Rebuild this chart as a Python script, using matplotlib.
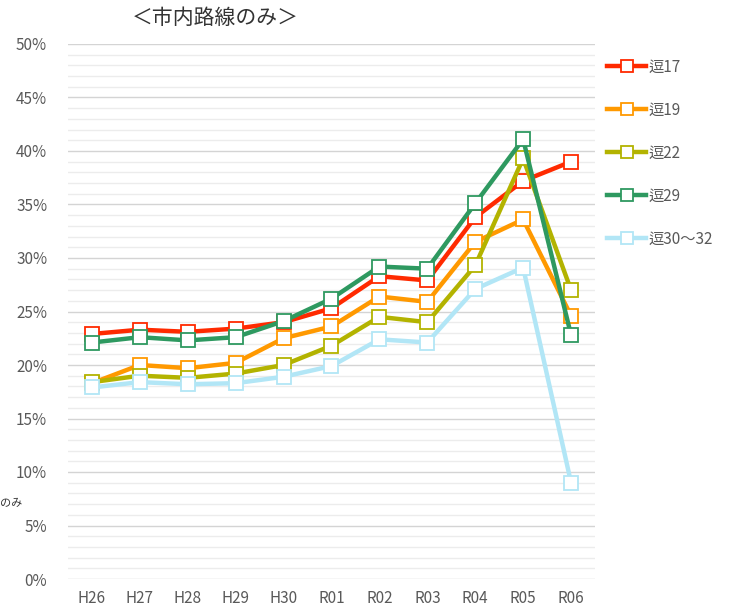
import matplotlib
matplotlib.use("Agg")
import matplotlib.pyplot as plt
from matplotlib.ticker import MultipleLocator, FuncFormatter

plt.rcParams['font.family'] = ['Noto Sans CJK JP', 'DejaVu Sans']

categories = ["H26", "H27", "H28", "H29", "H30", "R01", "R02", "R03", "R04", "R05", "R06"]
series_names = ["逗17", "逗19", "逗22", "逗29", "逗30〜32"]
zushi17 = [22.9, 23.3, 23.1, 23.4, 24.0, 25.3, 28.3, 27.9, 33.8, 37.2, 39.0]
zushi19 = [18.3, 20.0, 19.7, 20.2, 22.5, 23.6, 26.4, 25.9, 31.5, 33.6, 24.6]
zushi22 = [18.4, 19.0, 18.8, 19.2, 20.0, 21.8, 24.5, 24.0, 29.3, 39.3, 27.0]
zushi29 = [22.1, 22.6, 22.3, 22.6, 24.1, 26.2, 29.2, 29.0, 35.1, 41.1, 22.8]
zushi30_32 = [17.9, 18.4, 18.2, 18.3, 18.9, 19.9, 22.4, 22.1, 27.1, 29.1, 9.0]
colors = ["#FF2A00", "#FF9900", "#B3B300", "#2E9960", "#B2E6F6"]

data = [zushi17, zushi19, zushi22, zushi29, zushi30_32]

fig = plt.figure(figsize=(7.31, 6.09), dpi=100)
ax = fig.add_axes([68/731, 30/609, 527/731, 535/609])

x = list(range(len(categories)))
handles = []
for name, vals, c in zip(series_names, data, colors):
    h, = ax.plot(x, vals, color=c, lw=3.2, marker="s", markersize=10,
                 markerfacecolor="white", markeredgecolor=c, markeredgewidth=1.3,
                 label=name, zorder=3)
    handles.append(h)

ax.set_xlim(-0.5, 10.5)
ax.set_ylim(0, 50)
ax.yaxis.set_major_locator(MultipleLocator(5))
ax.yaxis.set_minor_locator(MultipleLocator(1))
ax.yaxis.set_major_formatter(FuncFormatter(lambda v, p: f"{int(round(v))}%"))
ax.set_xticks(x)
ax.set_xticklabels(categories)
ax.grid(axis="y", which="major", color="#d4d4d4", lw=1.0, zorder=0)
ax.grid(axis="y", which="minor", color="#ececec", lw=1.0, zorder=0)
for s in ax.spines.values():
    s.set_visible(False)
ax.tick_params(axis="both", which="both", length=0, colors="#595959", labelsize=11)
ax.tick_params(axis="y", pad=15)
ax.tick_params(axis="x", pad=8)

fig.text(215/731, 1 - 18/609, "＜市内路線のみ＞", ha="center", va="center", fontsize=15, color="#333333")
fig.text(0/731, 1 - 503/609, "のみ", ha="left", va="center", fontsize=8, color="#333333")

leg = fig.legend(handles=handles, loc="upper left", bbox_to_anchor=(593/731, 1 - 45/609),
                 frameon=False, fontsize=11, labelspacing=1.7, handlelength=2.6,
                 handletextpad=0.1, labelcolor="#595959", markerscale=0.85)

fig.savefig("out.png", dpi=100)
